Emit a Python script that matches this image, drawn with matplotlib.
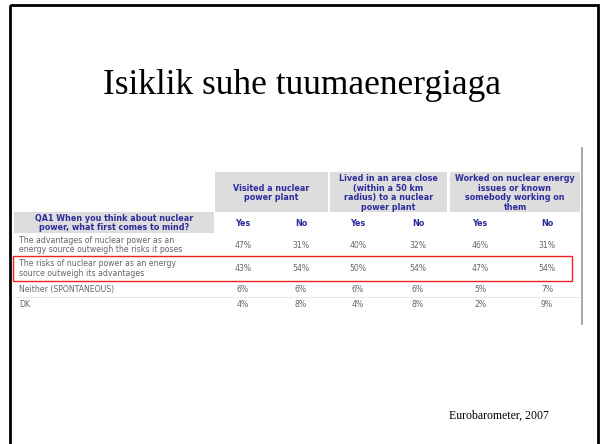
import matplotlib.pyplot as plt
from matplotlib.patches import Rectangle

title = 'Isiklik suhe tuumaenergiaga'
source = 'Eurobarometer, 2007'
question = 'QA1 When you think about nuclear\npower, what first comes to mind?'
groups = ['Visited a nuclear\npower plant',
          'Lived in an area close\n(within a 50 km\nradius) to a nuclear\npower plant',
          'Worked on nuclear energy\nissues or known\nsomebody working on\nthem']
subcols = ['Yes', 'No', 'Yes', 'No', 'Yes', 'No']
answers = ['The advantages of nuclear power as an\nenergy source outweigh the risks it poses',
           'The risks of nuclear power as an energy\nsource outweigh its advantages',
           'Neither (SPONTANEOUS)',
           'DK']
values = [
    [47, 31, 40, 32, 46, 31],
    [43, 54, 50, 54, 47, 54],
    [6, 6, 6, 6, 5, 7],
    [4, 8, 4, 8, 2, 9],
]
highlight = 1

fig = plt.figure(figsize=(6, 4.44), dpi=100)
ax = fig.add_axes([0, 0, 1, 1])
ax.set_xlim(0, 600)
ax.set_ylim(444, 0)
ax.axis('off')

# slide frame
ax.add_patch(Rectangle((10, 5), 588, 445, fill=False, ec='black', lw=2))
ax.text(302, 86, title, ha='center', va='center', fontsize=25.5,
        family='Liberation Serif')
ax.text(499, 416, source, ha='center', va='center', fontsize=8.5,
        family='Liberation Serif')

blue = '#2b2b9c'
grey_txt = '#666666'
hdr_bg = '#dddddd'

# group headers
gx = [(215, 328), (330, 447), (450, 580)]
for (x0, x1), g in zip(gx, groups):
    ax.add_patch(Rectangle((x0, 172), x1 - x0, 40, fc=hdr_bg, ec='none'))
    ax.text((x0 + x1) / 2, 193, g, ha='center', va='center', fontsize=5.8,
            fontweight='bold', color=blue, linespacing=1.05)

ax.add_patch(Rectangle((14, 212), 200, 21, fc=hdr_bg, ec='none'))
ax.text(114, 222.5, question, ha='center', va='center', fontsize=5.8,
        fontweight='bold', color=blue, linespacing=1.0)

col_x = [243, 301, 358, 418, 480, 547]
for x, s in zip(col_x, subcols):
    ax.text(x, 223, s, ha='center', va='center', fontsize=5.8,
            fontweight='bold', color=blue)

row_y = [245, 268.5, 289, 304]
for i, (y, lab, vals) in enumerate(zip(row_y, answers, values)):
    ax.text(19, y, lab, ha='left', va='center', fontsize=5.6,
            color=grey_txt, linespacing=1.1)
    for x, v in zip(col_x, vals):
        ax.text(x, y, f'{v}%', ha='center', va='center', fontsize=5.6,
                color=grey_txt)

# faint separators
ax.plot([14, 580], [297, 297], color='#e6e6e6', lw=0.6, zorder=0.5)

# highlight box around the "risks" row
ax.add_patch(Rectangle((13, 256), 559, 25, fill=False, ec='#ee2222', lw=1,
                       zorder=3))

ax.plot([582, 582], [148, 324], color='#999999', lw=1.2)

fig.savefig('out.png', dpi=100)
